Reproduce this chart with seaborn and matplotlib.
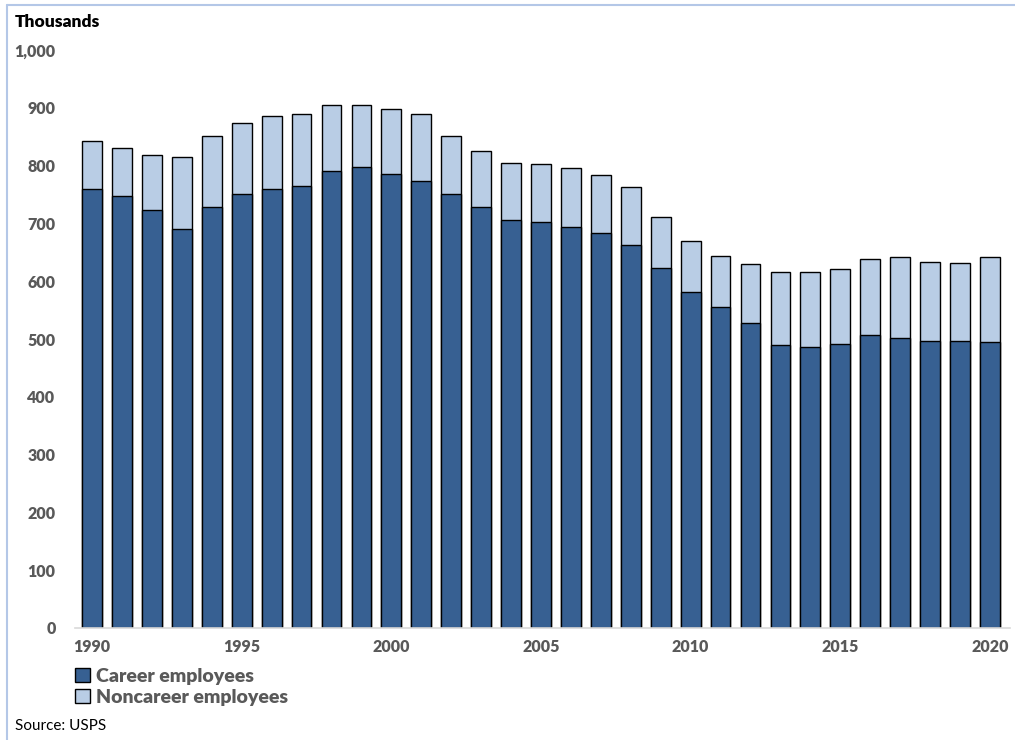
import numpy as np
import pandas as pd
import matplotlib
matplotlib.use("Agg")
import matplotlib.pyplot as plt
from matplotlib.patches import Patch
from matplotlib.lines import Line2D
import seaborn as sns

# Datos (miles de empleados)
years = list(range(1990, 2021))
career = [759, 747, 724, 691, 728, 751, 759, 764, 790, 797, 786, 774, 751, 728,
          706, 703, 694, 683, 663, 622, 582, 556, 528, 489, 487, 491, 507, 502,
          497, 497, 494]
total = [842, 831, 818, 815, 852, 873, 885, 890, 904, 904, 898, 890, 852, 826,
         805, 802, 795, 784, 763, 711, 670, 644, 629, 616, 616, 621, 639, 642,
         634, 632, 642]
noncareer = [t - c for t, c in zip(total, career)]

df = pd.DataFrame({"Year": years, "Career": career, "Noncareer": noncareer})
df["Total"] = df["Career"] + df["Noncareer"]

dark = "#376092"
light = "#B9CDE5"
gray = "#595959"

sns.set_style("white")
plt.rcParams["font.family"] = ["Lato", "DejaVu Sans"]

fig = plt.figure(figsize=(10.15, 7.40), dpi=100)
ax = fig.add_axes([75 / 1015, 1 - 628 / 740, 935 / 1015, 578 / 740])

sns.barplot(data=df, x="Year", y="Total", color=light, edgecolor="black",
            linewidth=1, width=0.66, saturation=1, ax=ax)
sns.barplot(data=df, x="Year", y="Career", color=dark, edgecolor="black",
            linewidth=1, width=0.66, saturation=1, ax=ax)

ax.set_ylim(0, 1000)
ax.set_xlim(-0.57, 30.67)
ax.set_yticks(range(0, 1001, 100))
ax.set_yticklabels([f"{v:,}" for v in range(0, 1001, 100)],
                   fontsize=11.5, fontweight="heavy", color=gray)
ax.set_xticks(range(0, 31, 5))
ax.set_xticklabels([str(years[i]) for i in range(0, 31, 5)],
                   fontsize=11.5, fontweight="heavy", color=gray)
ax.tick_params(axis="both", length=0, pad=8)
ax.tick_params(axis="y", pad=14)
ax.set_xlabel("")
ax.set_ylabel("")
for s in ["top", "right", "left"]:
    ax.spines[s].set_visible(False)
ax.spines["bottom"].set_color("#D9D9D9")
ax.spines["bottom"].set_linewidth(1.2)

fig.text(15 / 1015, 1 - 22 / 740, "Thousands", fontsize=12.5, fontweight="heavy",
         color="black", va="center", ha="left")

handles = [Patch(facecolor=dark, edgecolor="black", label="Career employees"),
           Patch(facecolor=light, edgecolor="black", label="Noncareer employees")]
leg = fig.legend(handles=handles, loc="upper left",
                 bbox_to_anchor=(75 / 1015, 1 - 668 / 740), frameon=False,
                 handlelength=0.75, handleheight=0.75, handletextpad=0.35,
                 labelspacing=0.2, borderaxespad=0, borderpad=0,
                 prop={"family": ["Lato", "DejaVu Sans"], "weight": "heavy", "size": 14})
for t in leg.get_texts():
    t.set_color(gray)

fig.text(15 / 1015, 1 - 726 / 740, "Source: USPS", fontsize=11,
         color="black", va="center", ha="left")

# marco azul claro
border = "#B4C7E7"
fig.add_artist(Line2D([7 / 1015, 1], [1 - 5 / 740, 1 - 5 / 740],
                      transform=fig.transFigure, color=border, lw=1.5))
fig.add_artist(Line2D([7 / 1015, 7 / 1015], [0, 1 - 5 / 740],
                      transform=fig.transFigure, color=border, lw=1.5))

fig.savefig("out.png", dpi=100)
